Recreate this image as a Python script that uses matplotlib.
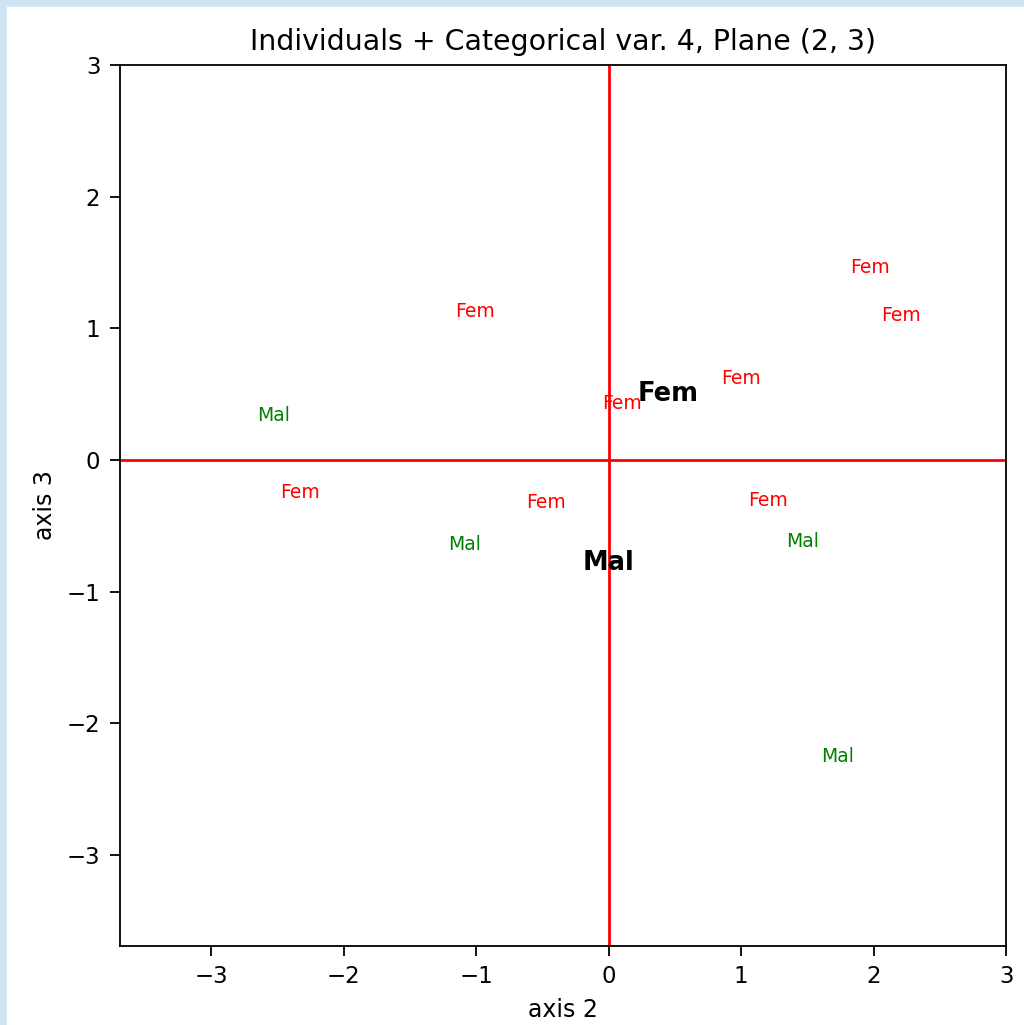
import numpy as np
import matplotlib.pyplot as plt
from matplotlib.patches import Rectangle

# individual coordinates on axes 2 and 3, with their category label
ind_x = [-1.01, -2.53, -2.33, -0.47, -1.09, 0.10, 1.00, 1.97, 2.21, 1.20, 1.46, 1.73]
ind_y = [1.13, 0.34, -0.25, -0.32, -0.64, 0.43, 0.62, 1.46, 1.10, -0.31, -0.62, -2.25]
ind_cat = ['Fem', 'Mal', 'Fem', 'Fem', 'Mal', 'Fem', 'Fem', 'Fem', 'Fem', 'Fem', 'Mal', 'Mal']

# category centres
cat_names = ['Fem', 'Mal']
cat_x = [0.45, 0.0]
cat_y = [0.50, -0.78]

colors = {'Fem': 'red', 'Mal': 'green'}

plt.rcParams['font.size'] = 17
plt.rcParams['axes.linewidth'] = 1.3

fig = plt.figure(figsize=(10.24, 10.25), dpi=100)
fig.patches.append(Rectangle((0, 0), 1, 1, transform=fig.transFigure,
                             color='#cfe4f3', zorder=-2))
fig.patches.append(Rectangle((7 / 1024, 0), 1, 1 - 7 / 1025, transform=fig.transFigure,
                             color='white', zorder=-1))
ax = fig.add_axes([0.117, 0.0771, 0.8655, 0.8595])

for x, y, c in zip(ind_x, ind_y, ind_cat):
    ax.text(x, y, c, color=colors[c], fontsize=13.5, ha='center', va='center')

for x, y, c in zip(cat_x, cat_y, cat_names):
    ax.text(x, y, c, color='black', fontsize=18.5, fontweight='bold', ha='center', va='center')

ax.axhline(0, color='red', lw=2)
ax.axvline(0, color='red', lw=2)

ax.set_xlim(-3.69, 3.0)
ax.set_ylim(-3.69, 3.0)
ax.tick_params(labelsize=16.5, length=7, width=1.3, pad=7)
ax.set_xlabel('axis 2', fontsize=17, labelpad=7)
ax.set_ylabel('axis 3', fontsize=17, labelpad=7)
ax.set_title('Individuals + Categorical var. 4, Plane (2, 3)', fontsize=20.4, pad=11)

plt.savefig('out.png', dpi=100)
